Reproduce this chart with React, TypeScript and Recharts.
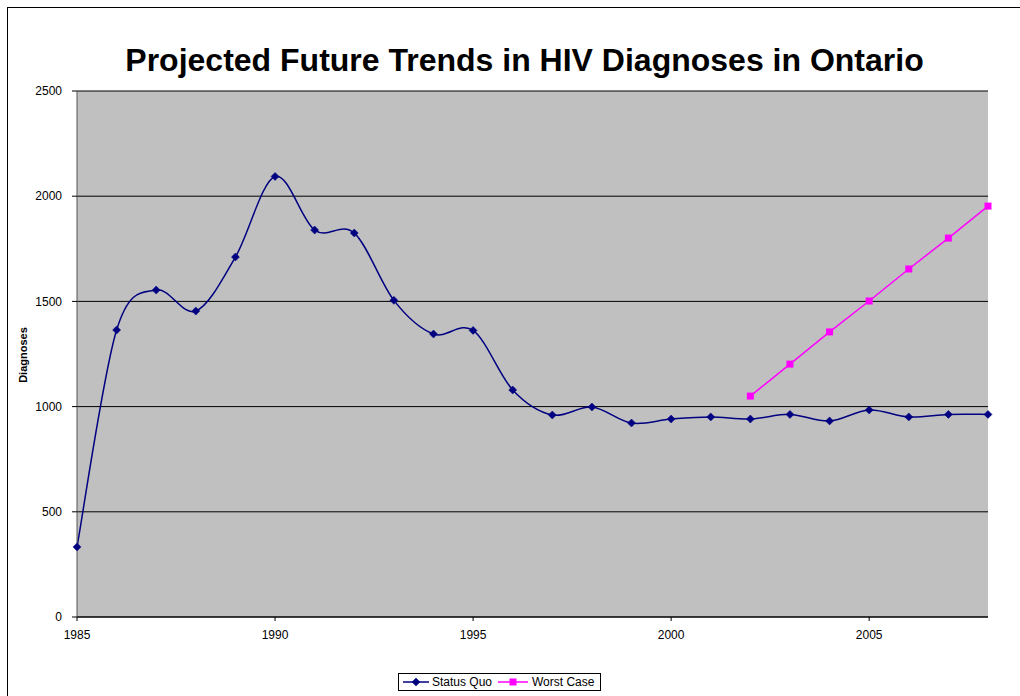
import { CartesianGrid, Line, LineChart, XAxis, YAxis } from "recharts"

const years = [
  1985, 1986, 1987, 1988, 1989, 1990, 1991, 1992, 1993, 1994, 1995, 1996,
  1997, 1998, 1999, 2000, 2001, 2002, 2003, 2004, 2005, 2006, 2007, 2008,
]
const statusQuo = [
  333, 1364, 1554, 1454, 1711, 2094, 1839, 1825, 1505, 1345, 1362, 1079,
  960, 998, 922, 941, 951, 941, 963, 932, 984, 951, 963, 963,
]
// projection only starts in 2002
const worstCaseYears = [2002, 2003, 2004, 2005, 2006, 2007, 2008]
const worstCase = [1050, 1202, 1355, 1502, 1654, 1801, 1953]

const xTicks = [1985, 1990, 1995, 2000, 2005]
const yTicks = [0, 500, 1000, 1500, 2000, 2500]

const rows = years.map((year, i) => {
  const w = worstCaseYears.indexOf(year)
  return {
    year,
    statusQuo: statusQuo[i],
    worstCase: w >= 0 ? worstCase[w] : undefined,
  }
})

const NAVY = "#000080"
const MAGENTA = "#FF00FF"
const FONT = "'Liberation Sans', Arial, sans-serif"

// Excel-style smoothed line (Catmull-Rom through every point)
function excelSmooth(context: any) {
  let pts: [number, number][] = []
  return {
    areaStart() {},
    areaEnd() {},
    lineStart() {
      pts = []
    },
    point(x: number, y: number) {
      pts.push([+x, +y])
    },
    lineEnd() {
      if (!pts.length) return
      context.moveTo(pts[0][0], pts[0][1])
      for (let i = 0; i < pts.length - 1; i++) {
        const p0 = pts[i - 1] || pts[i]
        const p1 = pts[i]
        const p2 = pts[i + 1]
        const p3 = pts[i + 2] || p2
        context.bezierCurveTo(
          p1[0] + (p2[0] - p0[0]) / 6,
          p1[1] + (p2[1] - p0[1]) / 6,
          p2[0] - (p3[0] - p1[0]) / 6,
          p2[1] - (p3[1] - p1[1]) / 6,
          p2[0],
          p2[1]
        )
      }
    },
  }
}

function Diamond({ cx, cy }: { cx?: number; cy?: number }) {
  if (cx == null || cy == null) return null
  const r = 4
  return (
    <path
      d={`M${cx},${cy - r}L${cx + r},${cy}L${cx},${cy + r}L${cx - r},${cy}Z`}
      fill={NAVY}
      stroke={NAVY}
      strokeWidth={0.5}
    />
  )
}

function Square({ cx, cy }: { cx?: number; cy?: number }) {
  if (cx == null || cy == null) return null
  return <rect x={cx - 3.5} y={cy - 3.5} width={7} height={7} fill={MAGENTA} />
}

function Legend() {
  return (
    <div
      style={{
        position: "absolute",
        left: 398,
        top: 673,
        width: 201,
        height: 16,
        border: "1px solid #000",
        background: "#fff",
        fontFamily: FONT,
        fontSize: 12,
      }}
    >
      <svg width={201} height={16} style={{ position: "absolute", left: 0, top: 0 }}>
        <line x1={4} x2={30} y1={8} y2={8} stroke={NAVY} strokeWidth={1.5} />
        <Diamond cx={17} cy={8} />
        <line x1={99} x2={129} y1={8} y2={8} stroke={MAGENTA} strokeWidth={1.5} />
        <Square cx={114} cy={8} />
      </svg>
      <span style={{ position: "absolute", left: 33, top: 1, lineHeight: "14px" }}>
        Status Quo
      </span>
      <span style={{ position: "absolute", left: 133, top: 1, lineHeight: "14px" }}>
        Worst Case
      </span>
    </div>
  )
}

export default function App() {
  return (
    <div
      style={{
        position: "absolute",
        left: 0,
        top: 0,
        width: 1020,
        height: 696,
        overflow: "hidden",
        background: "#fff",
      }}
    >
      <div
        style={{
          position: "absolute",
          left: 7,
          top: 7,
          width: 1040,
          height: 720,
          border: "1px solid #000",
        }}
      />
      <div
        style={{
          position: "absolute",
          left: 0,
          top: 40,
          width: 1049,
          textAlign: "center",
          fontFamily: FONT,
          fontWeight: "bold",
          fontSize: 32,
          lineHeight: "40px",
        }}
      >
        Projected Future Trends in HIV Diagnoses in Ontario
      </div>
      <div
        style={{
          position: "absolute",
          left: 23,
          top: 355,
          transform: "translate(-50%, -50%) rotate(-90deg)",
          fontFamily: FONT,
          fontWeight: "bold",
          fontSize: 11,
          whiteSpace: "nowrap",
        }}
      >
        Diagnoses
      </div>
      <div style={{ position: "absolute", left: 0, top: 0 }}>
        <LineChart
          width={1020}
          height={696}
          data={rows}
          margin={{ top: 91, right: 32, left: 17, bottom: 49 }}
        >
          <CartesianGrid
            vertical={false}
            horizontal
            fill="#C0C0C0"
            fillOpacity={1}
            stroke="#000"
            strokeOpacity={1}
          />
          <XAxis
            dataKey="year"
            type="number"
            domain={[1985, 2008]}
            ticks={xTicks}
            interval={0}
            height={30}
            axisLine={{ stroke: "#000", strokeWidth: 1 }}
            tickLine={{ stroke: "#000" }}
            tickSize={4}
            tickMargin={9}
            tick={{ fill: "#000", fontSize: 12, fontFamily: FONT }}
          />
          <YAxis
            type="number"
            domain={[0, 2500]}
            ticks={yTicks}
            interval={0}
            width={60}
            axisLine={{ stroke: "#555", strokeWidth: 1 }}
            tickLine={{ stroke: "#000" }}
            tickSize={5}
            tickMargin={10}
            tick={{ fill: "#000", fontSize: 12, fontFamily: FONT }}
          />
          <Line
            dataKey="statusQuo"
            type={excelSmooth as any}
            stroke={NAVY}
            strokeWidth={1.5}
            dot={<Diamond />}
            isAnimationActive={false}
          />
          <Line
            dataKey="worstCase"
            type="linear"
            stroke={MAGENTA}
            strokeWidth={1.5}
            dot={<Square />}
            connectNulls={false}
            isAnimationActive={false}
          />
        </LineChart>
      </div>
      <Legend />
    </div>
  )
}
